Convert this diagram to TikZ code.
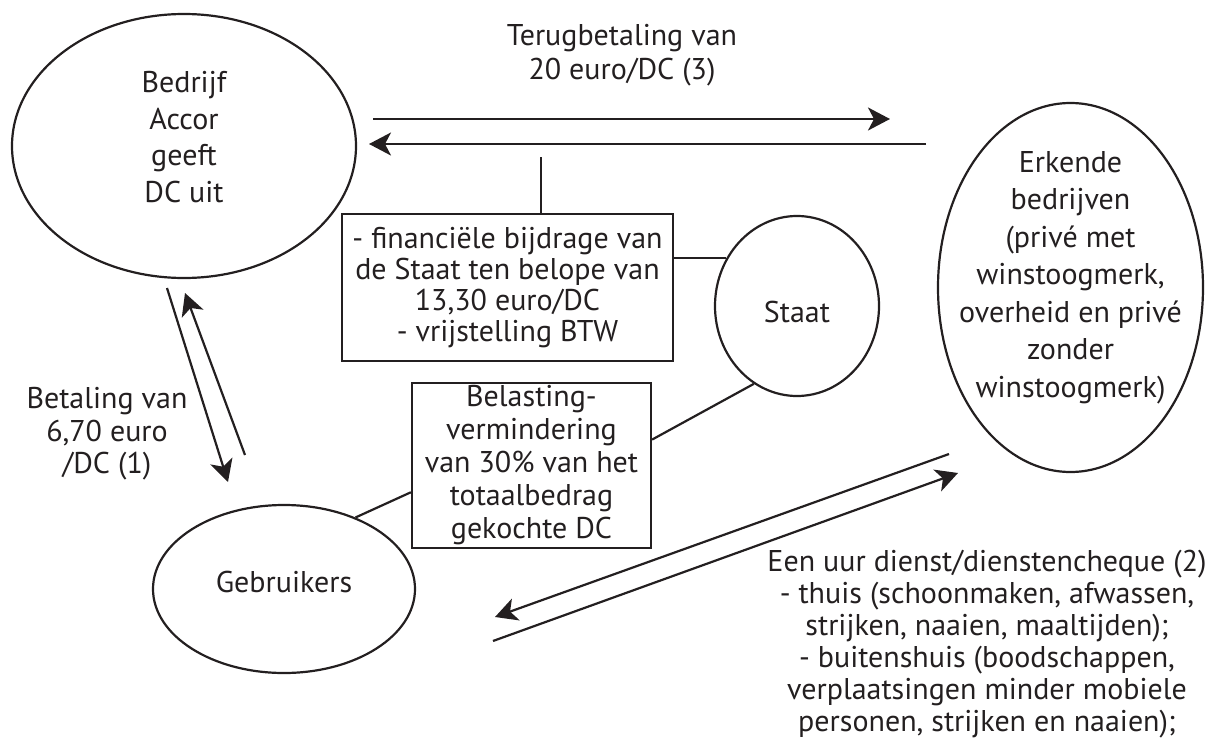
\documentclass[tikz,border=0pt]{standalone}
\usepackage{fontspec}
\setmainfont{PT Sans}
\usepackage{tikz}
\usetikzlibrary{shapes,calc}
\usetikzlibrary{arrows.meta,positioning}
\definecolor{ink}{RGB}{35,31,32}

\begin{document}
\begin{tikzpicture}[x=0.5pt,y=-0.5pt,line width=1.1pt,draw=ink,text=ink,
    party/.style={draw,ellipse,inner sep=0pt},
    infobox/.style={draw,rectangle,align=center,inner sep=0pt},
    lbl/.style={align=center,text=ink,font=\fontsize{15}{#1}\selectfont},
    lbl/.default=16.5pt,
    flow/.style={-{Stealth[length=11pt,width=11.5pt,inset=3pt]}}]
                \useasboundingbox (0,0) rectangle (1205,739);
                %Parties
                \node[party,minimum width=172pt,minimum height=132pt,
                      label={[lbl=18.3pt,yshift=4.5pt]center:{Bedrijf\\Accor\\geeft\\DC uit}}] (accor) at (184,146) {};
                \node[party,minimum width=132.5pt,minimum height=184.5pt,
                      label={[lbl=18.75pt,yshift=5pt]center:{Erkende\\bedrijven\\(privé met\\winstoogmerk,\\overheid en privé\\zonder\\winstoogmerk)}}] (erkend) at (1070.5,287.5) {};
                \node[party,minimum width=82pt,minimum height=90pt,
                      label={[lbl,yshift=-3pt]center:Staat}] (staat) at (797,306) {};
                \node[party,minimum width=131pt,minimum height=84pt,
                      label={[lbl,yshift=3.5pt]center:Gebruikers}] (gebruikers) at (284,589) {};
                %Boxes
                \node[infobox,lbl=15.6pt,minimum width=165.5pt,minimum height=73.5pt] (subsidie) at (507.5,287.5)
                    {- financiële bijdrage van\\de Staat ten belope van\\13,30 euro/DC\\- vrijstelling BTW};
                \node[infobox,lbl=16.5pt,minimum width=119.5pt,minimum height=82.5pt] (belasting) at (531.5,465.5)
                    {Belasting-\\vermindering\\van 30\% van het\\totaalbedrag\\gekochte DC};
                %Labels
                \node[lbl=17pt] (terug) at (622,55) {Terugbetaling van\\20 euro/DC (3)};
                \node[lbl=16.25pt] (betaling) at (107,434) {Betaling van\\6,70 euro\\/DC (1)};
                \node[lbl=16pt] (dienst) at (987,644) {Een uur dienst/dienstencheque (2)\\- thuis (schoonmaken, afwassen,\\strijken, naaien, maaltijden);\\- buitenshuis (boodschappen,\\verplaatsingen minder mobiele\\personen, strijken en naaien);};
                %Arrow ends
                \coordinate (t1) at (373,119); \coordinate (t2) at (890,119);
                \coordinate (t3) at (926,144); \coordinate (t4) at (369,144);
                \coordinate (b1) at (167,288); \coordinate (b2) at (228,482);
                \coordinate (b3) at (245,455); \coordinate (b4) at (185,293);
                \coordinate (d1) at (949,454); \coordinate (d2) at (495,617);
                \coordinate (d3) at (493,641); \coordinate (d4) at (958,473);
                \coordinate (v1) at (541,157);
                %Flows
                \draw[flow] (t1) -- (t2);
                \draw[flow] (t3) -- (t4);
                \draw[flow] (b1) -- (b2);
                \draw[flow] (b3) -- (b4);
                \draw[flow] (d1) -- (d2);
                \draw[flow] (d3) -- (d4);
                %Links to the Staat
                \draw (v1) -- (v1 |- subsidie.north);
                \draw (subsidie.east |- staat.146) -- (staat.146);
                \draw ($(belasting.north east)!0.345!(belasting.south east)$) -- (staat.241);
                \draw ($(belasting.north west)!0.66!(belasting.south west)$) -- (gebruikers.45);
            \end{tikzpicture}
\end{document}
